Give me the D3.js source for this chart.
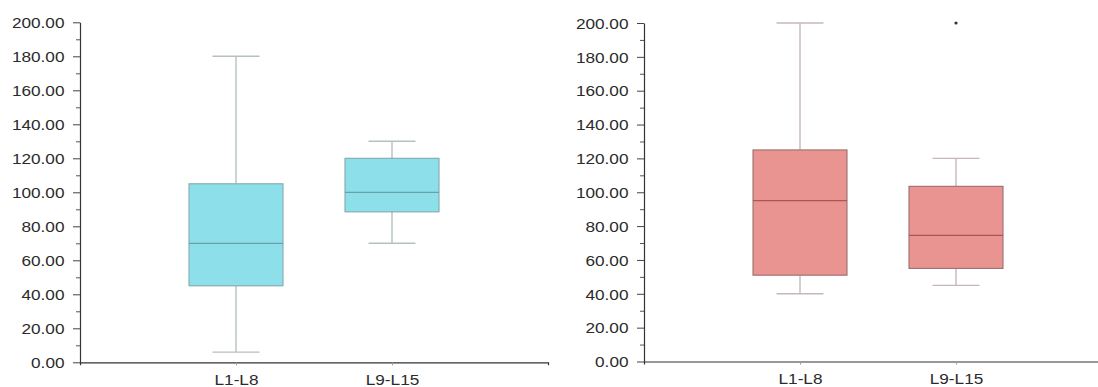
<!DOCTYPE html>
<html>
<head>
<meta charset="utf-8">
<script src="https://cdn.jsdelivr.net/npm/d3@7"></script>
<style>
  html, body { margin: 0; padding: 0; background: #fff; }
  svg { display: block; }
  .tick text, .lbl { font-family: "Liberation Sans", Arial, sans-serif; font-size: 15.5px; fill: #2b2b2b; }
</style>
</head>
<body>
<svg id="chart" width="1098" height="387"></svg>
<script>
// Groups shown on each panel
const categories = ["L1-L8", "L9-L15"];

// Box statistics per group: [min, q1, median, q3, max]
const leftStats  = [[6, 45, 70, 105, 180], [70, 88.5, 100, 120, 130]];
const rightStats = [[40, 51, 95, 125, 200], [45, 55, 74.5, 103.5, 120]];

// Outliers: [category index, value]
const leftOutliers  = [];
const rightOutliers = [[1, 200]];

// Y-axis ticks
const majorTicks = [0, 20, 40, 60, 80, 100, 120, 140, 160, 180, 200];
const minorTicks = [10, 30, 50, 70, 90, 110, 130, 150, 170, 190];

const svg = d3.select("#chart");
const TEXT_SX = 1.11;   // horizontal glyph stretch of the axis labels
const fmt = d3.format(".2f");

function panel(opts) {
  const { x0, x1, yBottom, yTop, stats, outliers, style } = opts;
  const g = svg.append("g");

  const y = d3.scaleLinear().domain([0, 200]).range([yBottom, yTop]);
  const x = d3.scalePoint().domain(categories).range([x0, x1]).padding(1);

  // minor y ticks
  const yMinor = g.append("g").attr("transform", `translate(${x0},0)`)
    .call(d3.axisLeft(y).tickValues(minorTicks).tickSize(4).tickFormat(""));
  yMinor.select(".domain").remove();
  yMinor.selectAll("line").attr("stroke", "#555");

  // major y ticks + labels
  const yAxis = g.append("g").attr("transform", `translate(${x0},0)`)
    .call(d3.axisLeft(y).tickValues(majorTicks).tickSize(7).tickSizeOuter(0).tickFormat(fmt));
  yAxis.select(".domain").attr("stroke", "#333").attr("stroke-width", 1.2);
  yAxis.selectAll(".tick line").attr("stroke", "#444");
  yAxis.selectAll(".tick text")
    .attr("x", -15.5 / TEXT_SX)
    .attr("dy", "0.34em")
    .attr("transform", `scale(${TEXT_SX},1)`);

  // x axis
  const xAxis = g.append("g").attr("transform", `translate(0,${yBottom})`)
    .call(d3.axisBottom(x).tickSize(3).tickSizeOuter(3));
  xAxis.select(".domain").attr("stroke", "#333").attr("stroke-width", 1.2);
  xAxis.selectAll(".tick line").attr("stroke", "#999");
  xAxis.selectAll(".tick text")
    .attr("y", 12)
    .attr("dy", "0.71em")
    .attr("transform", `scale(${TEXT_SX},1)`);

  const boxW = 94, capW = 47;

  stats.forEach((s, i) => {
    const cx = x(categories[i]);
    const [mn, q1, md, q3, mx] = s;
    const bg = g.append("g");

    // whiskers
    bg.append("line").attr("x1", cx).attr("x2", cx).attr("y1", y(mx)).attr("y2", y(q3))
      .attr("stroke", style.whisker).attr("stroke-width", 1.4);
    bg.append("line").attr("x1", cx).attr("x2", cx).attr("y1", y(q1)).attr("y2", y(mn))
      .attr("stroke", style.whisker).attr("stroke-width", 1.4);
    bg.append("line").attr("x1", cx - capW / 2).attr("x2", cx + capW / 2).attr("y1", y(mx)).attr("y2", y(mx))
      .attr("stroke", style.whisker).attr("stroke-width", 1.4);
    bg.append("line").attr("x1", cx - capW / 2).attr("x2", cx + capW / 2).attr("y1", y(mn)).attr("y2", y(mn))
      .attr("stroke", style.whisker).attr("stroke-width", 1.4);

    // box
    bg.append("rect")
      .attr("x", cx - boxW / 2).attr("width", boxW)
      .attr("y", y(q3)).attr("height", y(q1) - y(q3))
      .attr("fill", style.fill).attr("stroke", style.stroke).attr("stroke-width", 1.1);

    // median
    bg.append("line").attr("x1", cx - boxW / 2).attr("x2", cx + boxW / 2).attr("y1", y(md)).attr("y2", y(md))
      .attr("stroke", style.median).attr("stroke-width", 1.3);
  });

  outliers.forEach(([ci, v]) => {
    g.append("circle").attr("cx", x(categories[ci])).attr("cy", y(v)).attr("r", 1.6).attr("fill", "#333");
  });
}

panel({
  x0: 80, x1: 548, yBottom: 362.3, yTop: 22.3,
  stats: leftStats, outliers: leftOutliers,
  style: { fill: "#8ddfea", stroke: "#80a9ae", median: "#6c9fa6", whisker: "#b6c0c2" }
});

panel({
  x0: 644, x1: 1112, yBottom: 361.5, yTop: 23,
  stats: rightStats, outliers: rightOutliers,
  style: { fill: "#ea9491", stroke: "#9c6d6f", median: "#a3595c", whisker: "#c7b7b9" }
});
</script>
</body>
</html>
